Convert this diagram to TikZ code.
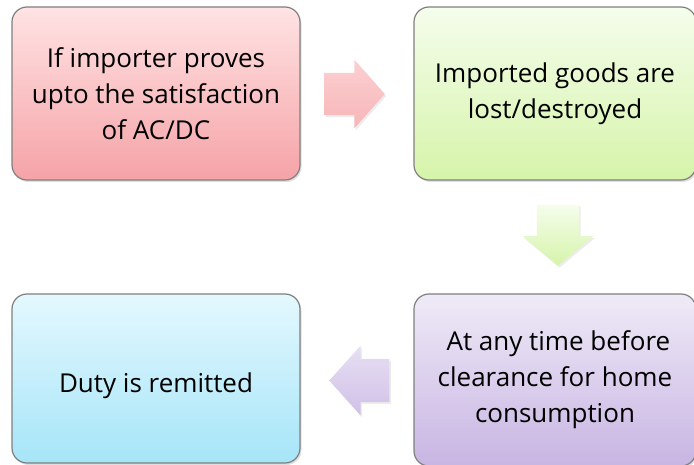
\documentclass[tikz,border=0pt]{standalone}
\usepackage{fontspec}
\setmainfont{Open Sans}
\usepackage{xcolor}
\usepackage{tikz}
\usetikzlibrary{shapes.arrows,shadows}
\definecolor{bordergray}{HTML}{7F7F7F}
\definecolor{pinktop}{HTML}{FFE3E4}
\definecolor{pinkbot}{HTML}{F5A3A7}
\definecolor{greentop}{HTML}{F5FDEC}
\definecolor{greenbot}{HTML}{D6F4AA}
\definecolor{cyantop}{HTML}{E4F8FE}
\definecolor{cyanbot}{HTML}{A6E5F8}
\definecolor{lilactop}{HTML}{EFEAF7}
\definecolor{lilacbot}{HTML}{C8B5E3}
\tikzset{
  stepbox/.style={rectangle,rounded corners=15pt,draw=bordergray,line width=1.2pt,
    align=center,text=black,font=\fontsize{26}{36}\selectfont,
    execute at begin node={\rule{0pt}{34pt}},
    drop shadow={opacity=0.25,shadow xshift=1.5pt,shadow yshift=-2pt}},
  blockarr/.style={single arrow,inner sep=0pt,draw=none,anchor=tip,
    drop shadow={opacity=0.15,shadow xshift=1.5pt,shadow yshift=-2pt}},
}
\begin{document}
\begin{tikzpicture}[x=1pt,y=-1pt]
\useasboundingbox (0,0) rectangle (694,465);

% the four steps
\node[stepbox,minimum width=288pt,minimum height=173pt,top color=pinktop,bottom color=pinkbot]
  (prove) at (156,93.5) {If importer proves\\upto the satisfaction\\of AC/DC};
\node[stepbox,minimum width=282pt,minimum height=173pt,top color=greentop,bottom color=greenbot]
  (lost) at (555,93.5) {Imported goods are\\lost/destroyed};
\node[stepbox,minimum width=282pt,minimum height=172pt,top color=lilactop,bottom color=lilacbot]
  (before) at (555,380) {\ At any time before\\clearance for home\\consumption};
\node[stepbox,minimum width=288pt,minimum height=169pt,top color=cyantop,bottom color=cyanbot]
  (remit) at (156,378.5) {Duty is remitted};

% block arrows between them
\node[blockarr,inner ysep=21pt,minimum height=60pt,minimum width=68pt,
  single arrow head extend=13pt,single arrow tip angle=97,
  top color=pinktop!70!pinkbot,bottom color=pinkbot!80!white]
  (toLost) at (385,94) {};
\node[blockarr,shape border rotate=270,inner xsep=21pt,minimum height=61pt,minimum width=70pt,
  single arrow head extend=14pt,single arrow tip angle=100,
  top color=greentop,bottom color=greenbot]
  (toBefore) at (558,266) {};
\node[blockarr,shape border rotate=180,inner ysep=21.5pt,minimum height=60pt,minimum width=69pt,
  single arrow head extend=13pt,single arrow tip angle=96,
  top color=lilactop!80!lilacbot,bottom color=lilacbot!85!white]
  (toRemit) at (329,380.5) {};
\end{tikzpicture}
\end{document}
